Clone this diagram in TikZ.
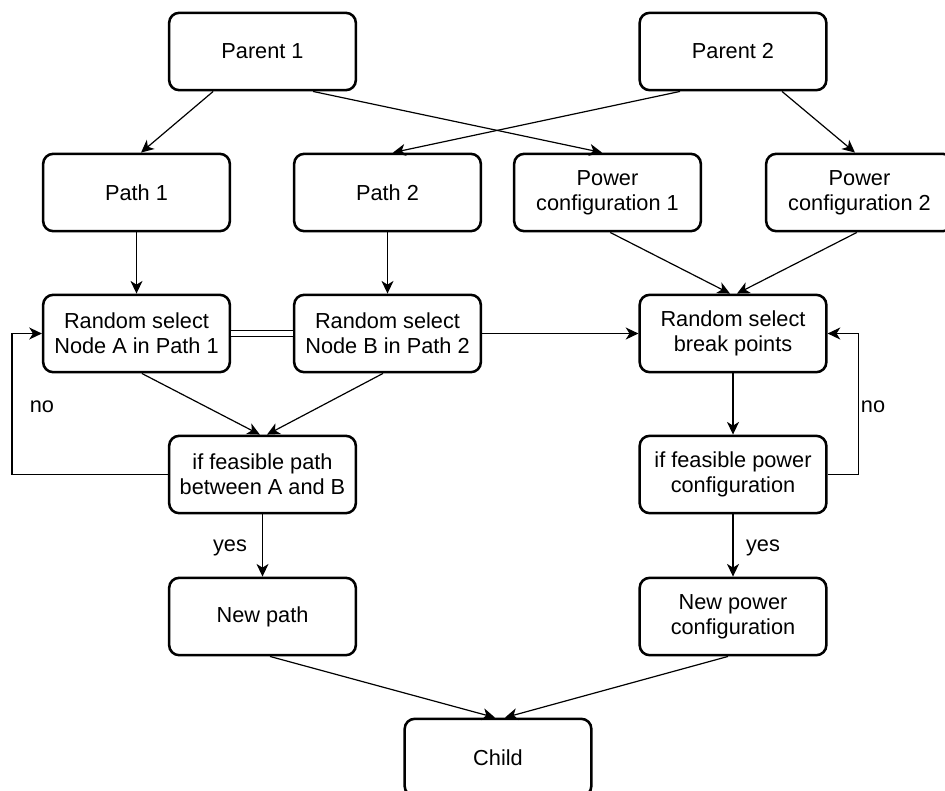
\documentclass[tikz,border=0pt]{standalone}
\usepackage{fontspec}
\setmainfont{Liberation Sans}
\usetikzlibrary{arrows.meta,calc}
\begin{document}
\begin{tikzpicture}[x=0.75pt,y=-0.75pt,
  box/.style={draw,line width=1.9pt,rounded corners=7.5pt,minimum width=140pt,minimum height=58pt,align=center,inner sep=0pt,font=\fontsize{16.3}{18.75}\selectfont},
  arr/.style={line width=0.9pt,-{Stealth[length=9.5pt,width=9pt,inset=2.8pt]}},
  lbl/.style={font=\fontsize{16.3}{18.75}\selectfont,inner sep=0pt}]
\useasboundingbox (0,0) rectangle (945,790);
\node[box] (P1) at (262.5,51.5) {Parent 1};
\node[box] (P2) at (733,51.5) {Parent 2};
\node[box] (Pa1) at (136.5,192.5) {Path 1};
\node[box] (Pa2) at (387.5,192.5) {Path 2};
\node[box] (PC1) at (607.5,192.5) {Power\\configuration 1};
\node[box] (PC2) at (859.5,192.5) {Power\\configuration 2};
\node[box] (RA) at (136.5,333.5) {Random select\\Node A in Path 1};
\node[box] (RB) at (387.5,333.5) {Random select\\Node B in Path 2};
\node[box] (RBr) at (733,333.5) {Random select\\break points};
\node[box] (FP) at (262.5,474.5) {if feasible path\\between A and B};
\node[box] (FPw) at (733,474.5) {if feasible power\\configuration};
\node[box] (NP) at (262.5,616.5) {New path};
\node[box] (NPw) at (733,616.5) {New power\\configuration};
\node[box] (C) at (498,757.5) {Child};
% top
\draw[arr] ([xshift=-37pt]P1.south) -- ([xshift=3.4pt]Pa1.north);
\draw[arr] ([xshift=37.9pt]P1.south) -- ([xshift=-4.1pt]PC1.north);
\draw[arr] ([xshift=-39.75pt]P2.south) -- ([xshift=4.1pt]Pa2.north);
\draw[arr] ([xshift=36.75pt]P2.south) -- ([xshift=-3.4pt]PC2.north);
\draw[arr] (Pa1) -- (RA);
\draw[arr] (Pa2) -- (RB);
\draw[arr] ([xshift=2pt]PC1.south) -- ([xshift=-2.25pt]RBr.north);
\draw[arr] ([xshift=-2pt]PC2.south) -- ([xshift=3pt]RBr.north);
\draw[line width=0.9pt,double,double distance=3.8pt] (RA) -- (RB);
\draw[arr] (RB) -- (RBr);
\draw[arr] ([xshift=4pt]RA.south) -- ([xshift=-2pt]FP.north);
\draw[arr] ([xshift=-3.4pt]RB.south) -- ([xshift=3.4pt]FP.north);
\draw[arr] (RBr) -- (FPw);
\draw[arr] (FP.west) -- ++(-156,0) |- (RA.west);
\draw[arr] (FPw.east) -- ++(31,0) |- (RBr.east);
\draw[arr] (FP) -- (NP);
\draw[arr] (FPw) -- (NPw);
\draw[arr] ([xshift=5.6pt]NP.south) -- ([xshift=-2.25pt]C.north);
\draw[arr] ([xshift=-3.75pt]NPw.south) -- ([xshift=5.25pt]C.north);
\node[lbl] (no1) at (42,407) {no};
\node[lbl] (no2) at (873,407) {no};
\node[lbl] (yes1) at (230,548) {yes};
\node[lbl] (yes2) at (763,548) {yes};
\end{tikzpicture}
\end{document}
